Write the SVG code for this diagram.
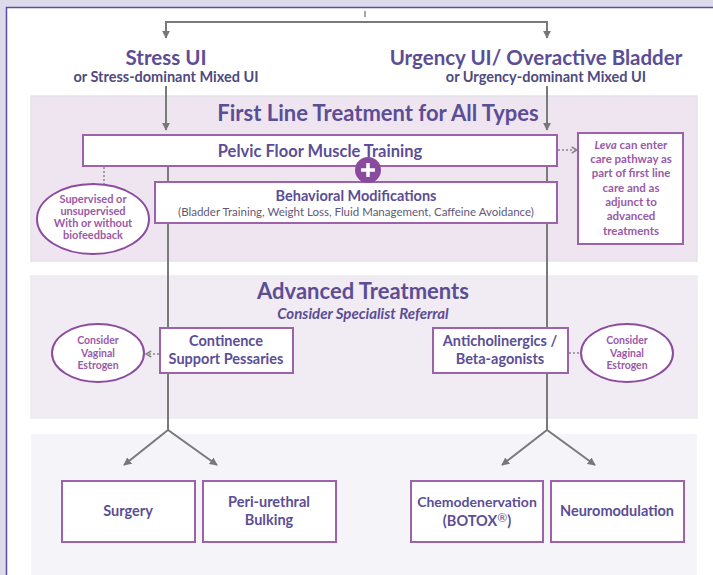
<svg xmlns="http://www.w3.org/2000/svg" width="713" height="575" viewBox="0 0 713 575">
<defs>
<marker id="ah" viewBox="0 0 10 10" refX="9" refY="5" markerWidth="4" markerHeight="4" orient="auto-start-reverse"><path d="M0,0 L10,5 L0,10 z" fill="#777"/></marker>
<marker id="ahd" viewBox="0 0 10 10" refX="8" refY="5" markerWidth="5" markerHeight="5" orient="auto"><path d="M1,1 L8,5 L1,9" fill="none" stroke="#888" stroke-width="2"/></marker>
<style>
.t{font-family:Lato,"Open Sans",sans-serif;fill:#5b4e96;font-weight:bold;text-anchor:middle}
.h{font-size:22px}
.n{font-size:14.5px}
.s{font-size:11px;fill:#9a5aa8}
.sub{font-size:11.5px;font-weight:normal;fill:#62587a}
.box{fill:#fff;stroke:#9c62aa;stroke-width:2}
.el{fill:#fff;stroke:#8c4c9e;stroke-width:2}
.c{fill:none;stroke:#7a7a7a;stroke-width:2}
.d{fill:none;stroke:#888;stroke-width:1.5;stroke-dasharray:2 2}
</style>
</defs>
<rect x="0" y="0" width="713" height="575" fill="#dcdaeb"/>
<rect x="6.5" y="7.5" width="720" height="580" fill="#fff" stroke="#5b50a0" stroke-width="1.5"/>
<rect x="31" y="96" width="666" height="165" fill="#efe5f1" stroke="#e4e2e8" stroke-width="1.5"/>
<rect x="31" y="276" width="666" height="142" fill="#f1ebf3" stroke="#ececf0" stroke-width="1.5"/>
<rect x="31" y="434" width="666" height="141" fill="#f5f4f8"/>

<g id="headers">
<text class="t" x="166" y="65" style="font-size:20.5px">Stress UI</text>
<text class="t" x="166" y="82" style="font-size:14.5px;fill:#4f4a80">or Stress-dominant Mixed UI</text>
<text class="t" x="536" y="65" style="font-size:20.5px">Urgency UI/ Overactive Bladder</text>
<text class="t" x="546" y="82" style="font-size:14.5px;fill:#4f4a80">or Urgency-dominant Mixed UI</text>
<text class="t h" x="378" y="121">First Line Treatment for All Types</text>
<text class="t h" x="363" y="299">Advanced Treatments</text>
<text class="t" x="363" y="319" style="font-size:15px;font-style:italic">Consider Specialist Referral</text>
</g>

<g id="connectors">
<line x1="365" y1="11" x2="365" y2="17" stroke="#888" stroke-width="1.5"/>
<polyline class="c" points="166,38 166,22 547,22 547,38" marker-start="url(#ah)" marker-end="url(#ah)"/>
<line class="c" x1="166" y1="86" x2="166" y2="130" marker-end="url(#ah)"/>
<line class="c" x1="547" y1="86" x2="547" y2="130" marker-end="url(#ah)"/>
<line class="c" x1="168" y1="166" x2="168" y2="335" marker-end="url(#ah)"/>
<line class="c" x1="547" y1="166" x2="547" y2="335" marker-end="url(#ah)"/>
<polyline class="c" points="124,465 168,430 217,465" marker-start="url(#ah)" marker-end="url(#ah)"/>
<line class="c" x1="168" y1="373" x2="168" y2="431"/>
<polyline class="c" points="502,465 547,430 595,465" marker-start="url(#ah)" marker-end="url(#ah)"/>
<line class="c" x1="547" y1="373" x2="547" y2="431"/>
<line class="d" x1="104" y1="167" x2="104" y2="190" marker-end="url(#ahd)"/>
<line class="d" x1="558" y1="150" x2="577" y2="150" marker-end="url(#ahd)"/>
<line class="d" x1="159" y1="354" x2="146" y2="354" marker-end="url(#ahd)"/>
<line class="d" x1="569" y1="353" x2="590" y2="353" marker-end="url(#ahd)"/>
</g>

<g id="pfmt">
<rect class="box" x="83" y="135" width="474" height="31"/>
<text class="t" x="320" y="157" style="font-size:16.5px">Pelvic Floor Muscle Training</text>
</g>
<g id="behavioral">
<rect class="box" x="155" y="182" width="402" height="41"/>
<text class="t n" x="356" y="201">Behavioral Modifications</text>
<text class="t sub" x="356" y="216">(Bladder Training, Weight Loss, Fluid Management, Caffeine Avoidance)</text>
</g>
<g id="plus">
<circle cx="368" cy="170" r="13" fill="#8a4a9e"/>
<path d="M368,163 V177 M361,170 H375" stroke="#fff" stroke-width="3.5"/>
</g>
<g id="supervised">
<ellipse class="el" cx="93" cy="219" rx="56" ry="35"/>
<text class="t s" x="93" y="203">Supervised or</text>
<text class="t s" x="93" y="215">unsupervised</text>
<text class="t s" x="93" y="227">With or without</text>
<text class="t s" x="93" y="239">biofeedback</text>
</g>
<g id="leva">
<rect class="box" x="578" y="133" width="105" height="111"/>
<text class="t s" x="631" y="149" style="font-size:11.5px"><tspan font-style="italic">Leva</tspan> can enter</text>
<text class="t s" x="631" y="163" style="font-size:11.5px">care pathway as</text>
<text class="t s" x="631" y="177" style="font-size:11.5px">part of first line</text>
<text class="t s" x="631" y="192" style="font-size:11.5px">care and as</text>
<text class="t s" x="631" y="206" style="font-size:11.5px">adjunct to</text>
<text class="t s" x="631" y="220" style="font-size:11.5px">advanced</text>
<text class="t s" x="631" y="235" style="font-size:11.5px">treatments</text>
</g>
<g id="pessaries">
<rect class="box" x="160" y="328" width="133" height="45"/>
<text class="t n" x="226" y="346">Continence</text>
<text class="t n" x="226" y="364">Support Pessaries</text>
</g>
<g id="estrogen-left">
<ellipse class="el" cx="98" cy="353" rx="46" ry="29"/>
<text class="t s" x="98" y="344" style="font-size:10.5px">Consider</text>
<text class="t s" x="98" y="357" style="font-size:10.5px">Vaginal</text>
<text class="t s" x="98" y="369" style="font-size:10.5px">Estrogen</text>
</g>
<g id="anticholinergics">
<rect class="box" x="433" y="328" width="135" height="45"/>
<text class="t n" x="500" y="346">Anticholinergics /</text>
<text class="t n" x="500" y="364">Beta-agonists</text>
</g>
<g id="estrogen-right">
<ellipse class="el" cx="627" cy="353" rx="46" ry="29"/>
<text class="t s" x="627" y="344" style="font-size:10.5px">Consider</text>
<text class="t s" x="627" y="357" style="font-size:10.5px">Vaginal</text>
<text class="t s" x="627" y="369" style="font-size:10.5px">Estrogen</text>
</g>
<g id="surgery">
<rect class="box" x="62" y="481" width="133" height="61"/>
<text class="t n" x="128" y="516">Surgery</text>
</g>
<g id="bulking">
<rect class="box" x="203" y="481" width="133" height="61"/>
<text class="t n" x="269" y="507">Peri-urethral</text>
<text class="t n" x="269" y="525">Bulking</text>
</g>
<g id="chemo">
<rect class="box" x="411" y="481" width="132" height="61"/>
<text class="t" x="477" y="507" style="font-size:14px">Chemodenervation</text>
<text class="t n" x="477" y="526">(BOTOX<tspan dy="-4" font-weight="normal" font-size="12">®</tspan><tspan dy="4">)</tspan></text>
</g>
<g id="neuromod">
<rect class="box" x="551" y="481" width="133" height="61"/>
<text class="t n" x="617" y="516">Neuromodulation</text>
</g>
</svg>
